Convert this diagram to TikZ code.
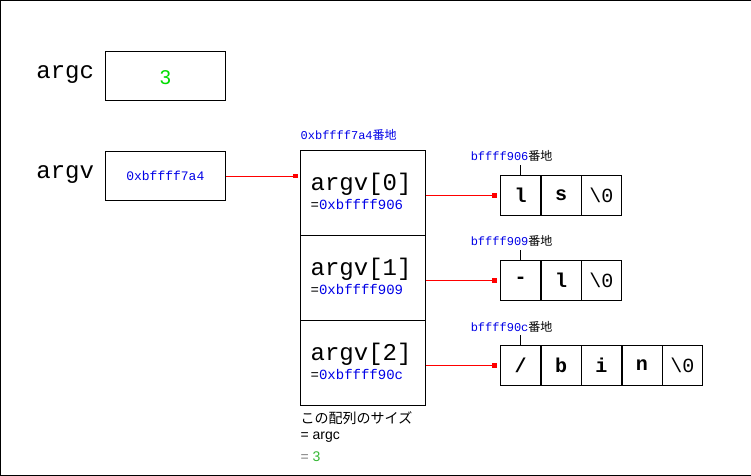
\documentclass[tikz,border=0pt]{standalone}
\usepackage{fontspec}
\setmainfont{Liberation Sans}
\setmonofont{Liberation Mono}
\newfontfamily\jp{Noto Sans CJK JP}
\usetikzlibrary{arrows.meta}
\definecolor{addrblue}{RGB}{0,0,230}
\definecolor{valgreen}{RGB}{0,220,0}
\tikzset{
  cellbox/.style={draw, minimum width=40pt, minimum height=40pt, inner sep=0pt, font=\ttfamily\bfseries\fontsize{20}{20}\selectfont},
  endbox/.style={cellbox, font=\ttfamily\fontsize{20}{20}\selectfont},
  addr/.style={text=addrblue, font=\ttfamily\fontsize{12}{12}\selectfont, inner sep=0pt},
  ptr/.style={red, shorten >=4pt, -{Square[length=4pt,width=4pt]}},
  bigname/.style={font=\ttfamily\fontsize{24}{24}\selectfont, inner sep=0pt}
}
\begin{document}
\begin{tikzpicture}[x=1pt,y=-1pt]
  \draw (0,0) rectangle (750,475);

  % argc and argv
  % ---------------------
  \node[bigname] (argcname) at (65,74) {argc};
  \node[draw, minimum width=120pt, minimum height=49pt] (argcbox) at (165,75.5) {};
  \node[text=valgreen, font=\fontsize{20}{20}\selectfont] (argcval) at (165,77) {3};
  \node[bigname] (argvname) at (65,174) {argv};
  \node[draw, minimum width=120pt, minimum height=49pt] (argvbox) at (165,175.5) {};
  \node[addr, font=\ttfamily\fontsize{13}{13}\selectfont] (argvval) at (165,176) {0xbffff7a4};

  % the array
  % ---------------------
  \node[addr, anchor=west] (arrlabel) at (300,135) {0xbffff7a4{\jp 番地}};
  \foreach \i/\a in {0/906,1/909,2/90c} {
    \node[draw, minimum width=125pt, minimum height=85pt, inner sep=0pt] (cell\i) at (362.5,{192.5+85*\i}) {};
    \node[bigname, anchor=west] (cname\i) at (310,{184+85*\i}) {argv[\i]};
    \node[addr, anchor=west, font=\ttfamily\fontsize{14}{14}\selectfont] (cval\i) at (310,{204+85*\i}) {{\color{black}=}0xbffff\a};
  }
  \draw[ptr] (argvbox.east) -- (301,0 |- argvbox.east);

  % strings
  % ---------------------
  \node[cellbox] (s0a) at (520,195) {l};
  \node[cellbox, anchor=west] (s0b) at (s0a.east) {s};
  \node[endbox, anchor=west] (s0c) at (s0b.east) {\textbackslash 0};
  \node[cellbox] (s1a) at (520,280) {-};
  \node[cellbox, anchor=west] (s1b) at (s1a.east) {l};
  \node[endbox, anchor=west] (s1c) at (s1b.east) {\textbackslash 0};
  \node[cellbox] (s2a) at (520,365) {/};
  \node[cellbox, anchor=west] (s2b) at (s2a.east) {b};
  \node[cellbox, anchor=west] (s2c) at (s2b.east) {i};
  \node[cellbox, anchor=west] (s2d) at (s2c.east) {n};
  \node[endbox, anchor=west] (s2e) at (s2d.east) {\textbackslash 0};
  \foreach \i/\a in {0/906,1/909,2/90c} {
    \node[addr, anchor=west] (slabel\i) at (470,{156+85*\i}) {bffff\a{\jp\color{black}番地}};
    \draw (s\i a.north) -- ++(0,-10);
    \draw[ptr] (cell\i.east |- s\i a) -- (s\i a.west);
  }

  % size note
  % ---------------------
  \node[anchor=west, inner sep=0pt, font=\jp\fontsize{14}{14}\selectfont] (note1) at (300,418) {この配列のサイズ};
  \node[anchor=west, inner sep=0pt, font=\fontsize{14}{14}\selectfont] (note2) at (300,437) {= argc};
  \node[anchor=west, inner sep=0pt, font=\fontsize{14}{14}\selectfont] (note3) at (300,456) {{\color{gray}=} {\color{valgreen!60!gray}3}};
\end{tikzpicture}
\end{document}
